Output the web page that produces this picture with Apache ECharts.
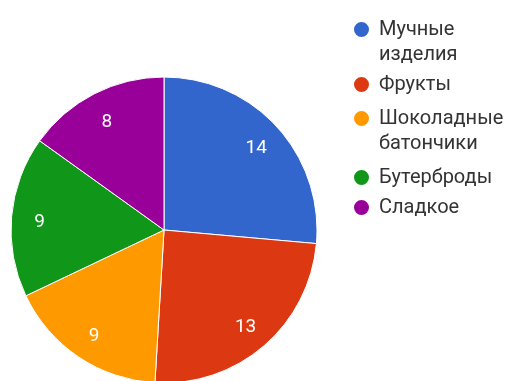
<!DOCTYPE html>
<html>
<head>
<meta charset="utf-8">
<script src="https://cdn.jsdelivr.net/npm/echarts@6/dist/echarts.min.js"></script>
<style>
  html, body { margin: 0; padding: 0; background: #fff; }
  #chart { width: 506px; height: 381px; }
</style>
</head>
<body>
<div id="chart"></div>
<script>
// данные опроса
const categories = ['Мучные изделия', 'Фрукты', 'Шоколадные батончики', 'Бутерброды', 'Сладкое'];
const values = [14, 13, 9, 9, 8];
const colors = ['#3366cc', '#dc3912', '#ff9900', '#109618', '#990099'];

// вертикальные центры значков легенды (px)
const legendRows = [28, 84, 117, 177, 207];

const chart = echarts.init(document.getElementById('chart'));

const pieData = categories.map((name, i) => ({ name: name, value: values[i] }));

// по одной легенде на пункт, чтобы значок стоял на уровне первой строки
const legends = categories.map((name, i) => {
  const twoLines = name.indexOf(' ') >= 0;
  return {
    orient: 'vertical',
    left: 352,
    top: legendRows[i] - (twoLines ? 36 : 12),
    padding: 0,
    itemWidth: 17,
    itemHeight: 17,
    icon: 'circle',
    data: [name],
    formatter: n => n.split(' ').map(w => '{n|' + w + '}').join('\n'),
    textStyle: {
      fontFamily: 'Roboto',
      fontSize: 20,
      lineHeight: 25,
      color: '#333',
      padding: twoLines ? [25, 0, 0, 4] : [0, 0, 0, 4],
      rich: {
        n: { fontFamily: 'Roboto', fontSize: 20, lineHeight: 25, color: '#333' }
      }
    }
  };
});

const options = {
  backgroundColor: '#fff',
  animation: false,
  color: colors,
  legend: legends,
  series: [
    {
      type: 'pie',
      center: [164, 230],
      radius: [0, 153],
      startAngle: 90,
      clockwise: true,
      data: pieData,
      label: { show: false },
      labelLine: { show: false },
      itemStyle: { borderColor: '#fff', borderWidth: 1 },
      emphasis: { disabled: true }
    },
    {
      // прозрачный круг только для подписей (ближе к краю)
      type: 'pie',
      center: [164, 233],
      radius: [0, 244],
      startAngle: 90,
      clockwise: true,
      silent: true,
      data: pieData,
      avoidLabelOverlap: false,
      itemStyle: { color: 'transparent', borderWidth: 0 },
      label: {
        show: true,
        position: 'inside',
        formatter: '{c}',
        color: '#fff',
        fontFamily: 'Roboto',
        fontSize: 19
      },
      labelLine: { show: false },
      emphasis: { disabled: true }
    }
  ]
};

chart.setOption(options);
</script>
</body>
</html>
